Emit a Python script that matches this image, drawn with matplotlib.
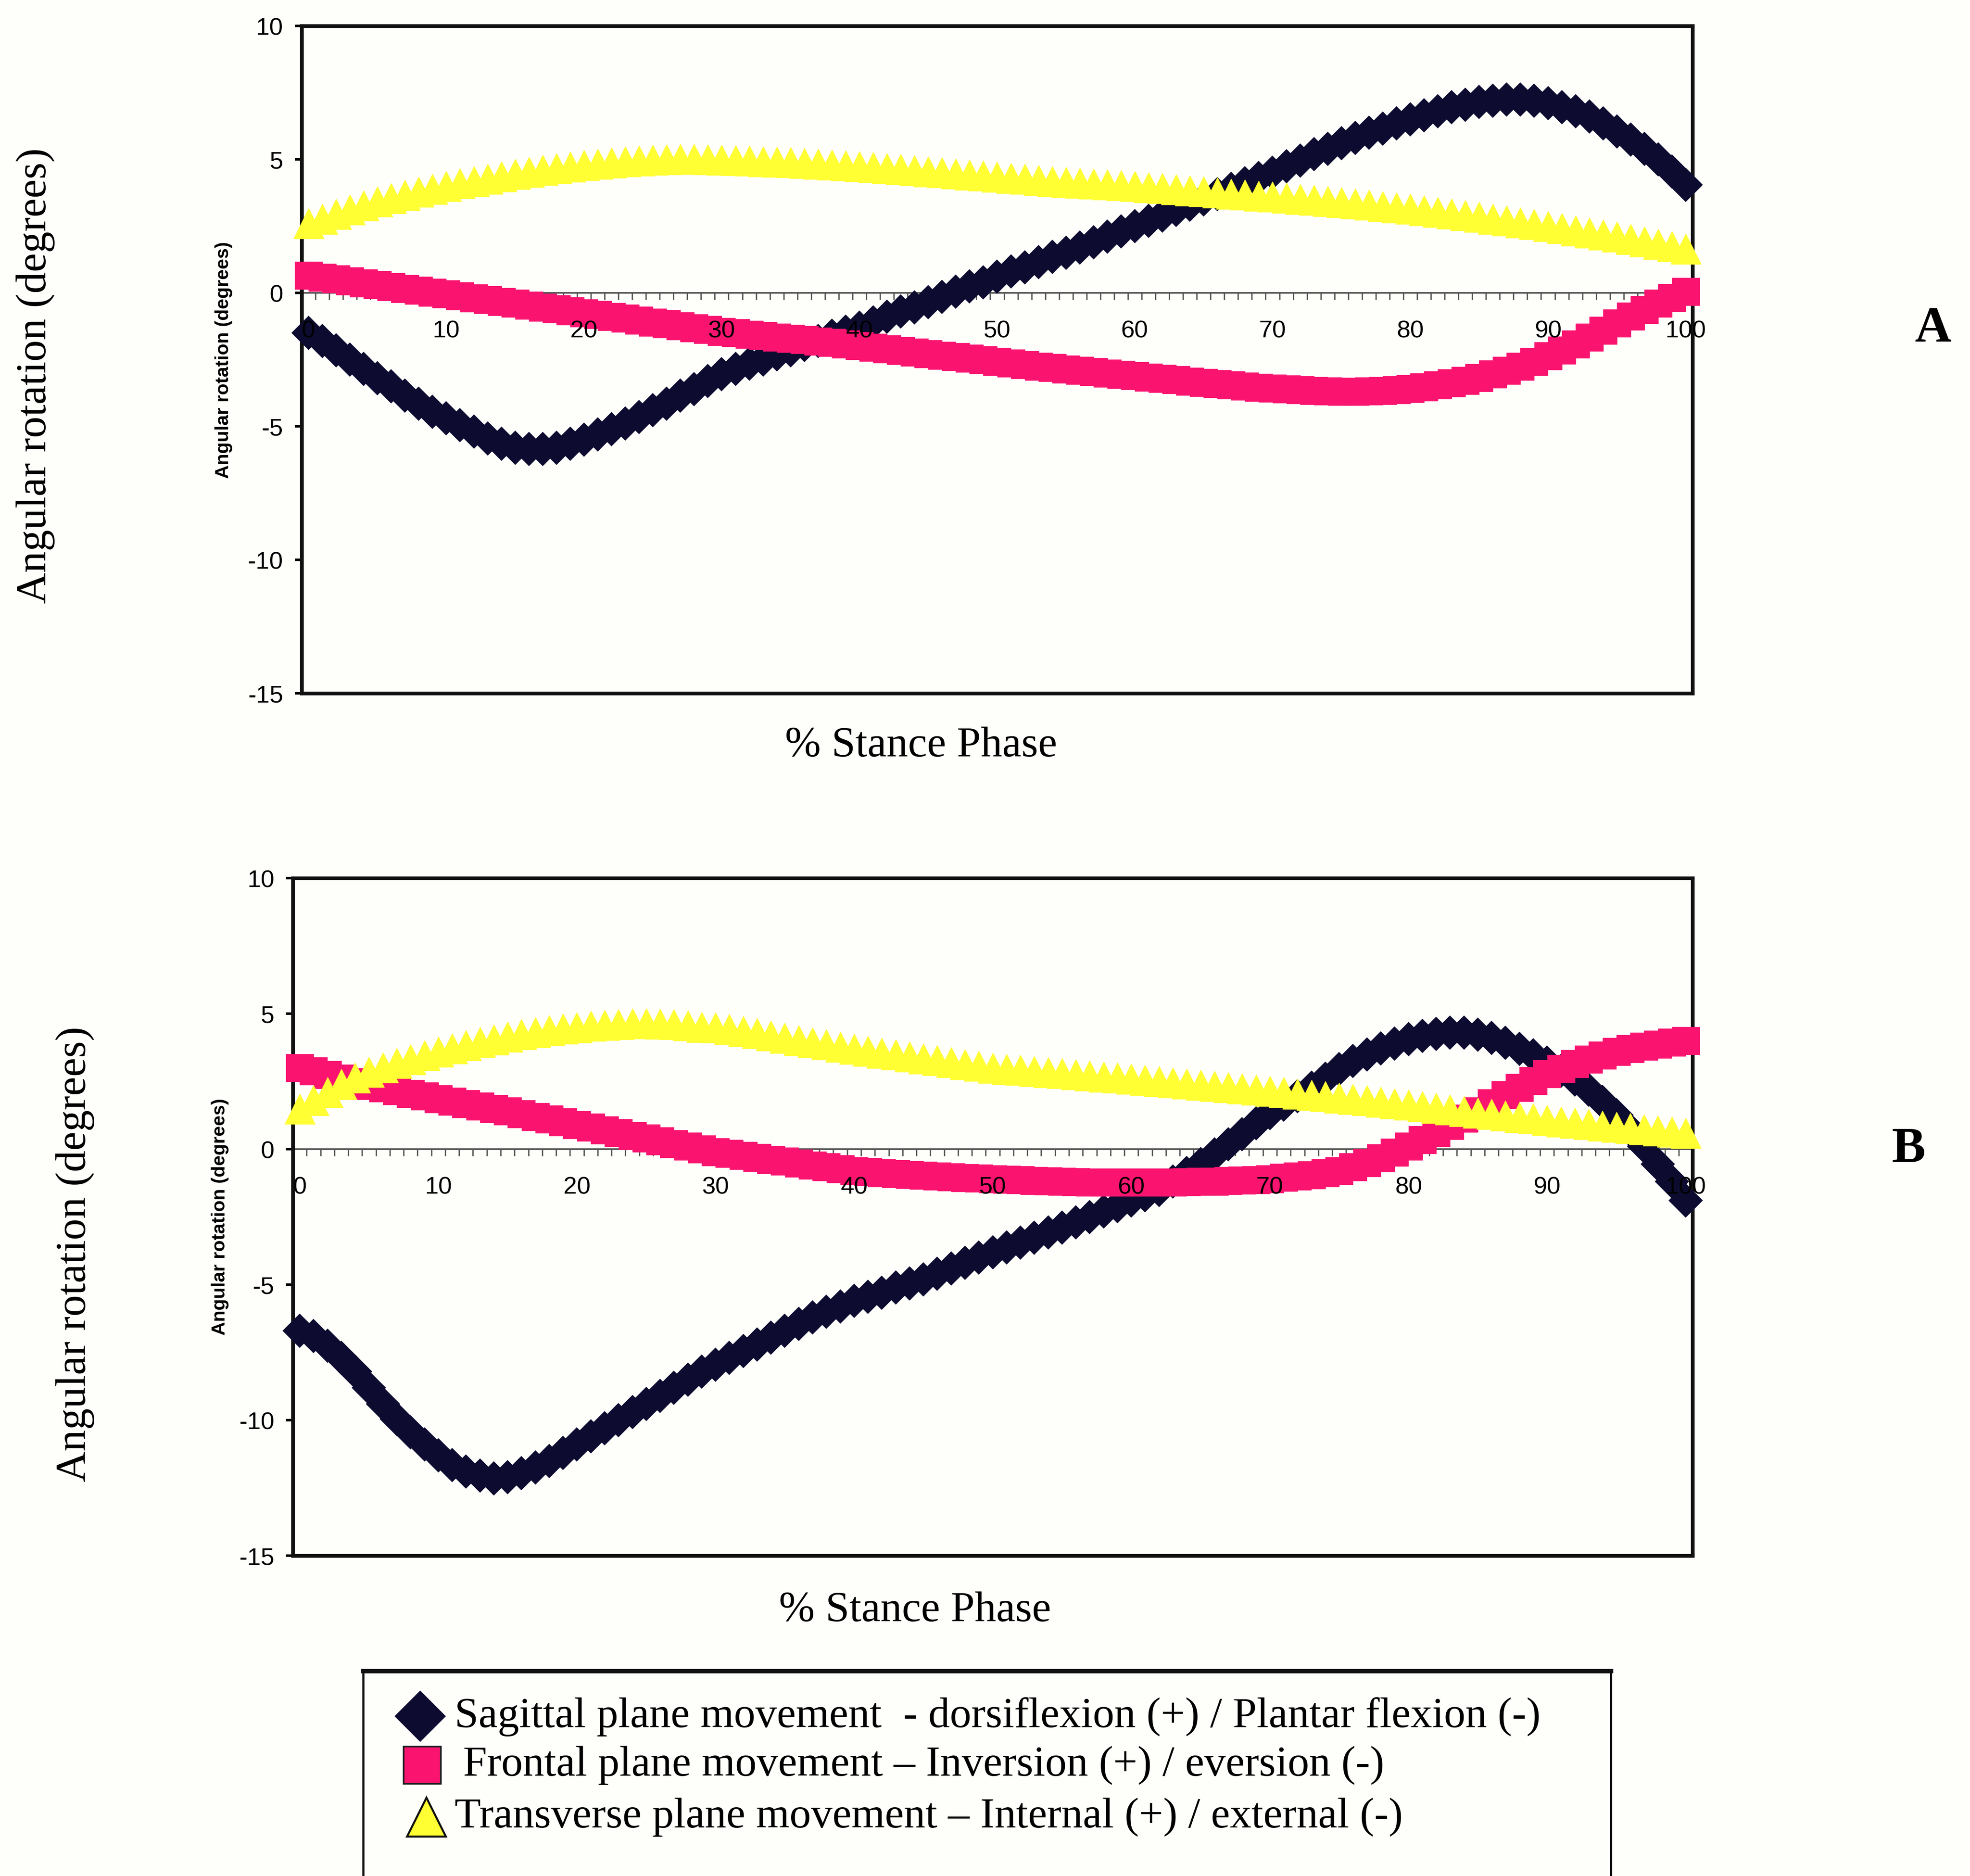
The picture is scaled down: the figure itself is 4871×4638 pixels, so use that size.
import numpy as np
import matplotlib.pyplot as plt
from matplotlib.lines import Line2D
from matplotlib.patches import Rectangle

plt.rcParams['font.family'] = ['Liberation Sans', 'DejaVu Sans']
plt.rcParams['axes.unicode_minus'] = False

# % of stance phase, one reading per percent
stance = np.arange(0, 101)

# panel A
sagittal_a = [-1.5, -1.8, -2.15, -2.5, -2.85, -3.2, -3.5, -3.85, -4.15, -4.45, -4.7,
              -4.95, -5.2, -5.45, -5.65, -5.8, -5.85, -5.85, -5.8, -5.65, -5.5,
              -5.3, -5.1, -4.9, -4.65, -4.4, -4.15, -3.85, -3.6, -3.3, -3.05,
              -2.85, -2.65, -2.5, -2.3, -2.15, -1.95, -1.8, -1.6, -1.45, -1.3,
              -1.1, -0.9, -0.7, -0.55, -0.35, -0.15, 0.05, 0.25, 0.4, 0.6,
              0.8, 0.95, 1.15, 1.35, 1.5, 1.7, 1.9, 2.1, 2.3, 2.5,
              2.7, 2.9, 3.1, 3.3, 3.5, 3.7, 3.9, 4.1, 4.3, 4.5,
              4.75, 4.95, 5.2, 5.4, 5.6, 5.8, 6.0, 6.15, 6.35, 6.5,
              6.65, 6.8, 6.95, 7.05, 7.15, 7.2, 7.25, 7.25, 7.2, 7.1,
              6.95, 6.8, 6.6, 6.35, 6.05, 5.75, 5.4, 5.0, 4.55, 4.05]
frontal_a = [0.65, 0.58, 0.51, 0.44, 0.37, 0.3, 0.23, 0.16, 0.09, 0.02, -0.05,
             -0.12, -0.19, -0.26, -0.33, -0.4, -0.47, -0.54, -0.61, -0.68, -0.75,
             -0.82, -0.89, -0.96, -1.03, -1.1, -1.17, -1.24, -1.31, -1.38, -1.45,
             -1.5, -1.56, -1.61, -1.66, -1.71, -1.76, -1.81, -1.86, -1.92, -1.98,
             -2.04, -2.1, -2.16, -2.22, -2.28, -2.34, -2.4, -2.46, -2.52, -2.58,
             -2.64, -2.7, -2.75, -2.8, -2.86, -2.91, -2.96, -3.01, -3.06, -3.11,
             -3.16, -3.21, -3.26, -3.31, -3.36, -3.41, -3.46, -3.5, -3.54, -3.58,
             -3.61, -3.64, -3.66, -3.68, -3.69, -3.69, -3.68, -3.66, -3.63, -3.59,
             -3.53, -3.46, -3.38, -3.29, -3.18, -3.05, -2.91, -2.75, -2.57, -2.37,
             -2.15, -1.92, -1.67, -1.41, -1.14, -0.88, -0.63, -0.4, -0.18, 0.05]
transverse_a = [2.6, 2.78, 2.95, 3.12, 3.27, 3.42, 3.55, 3.67, 3.79, 3.9, 4.0,
                4.1, 4.19, 4.28, 4.37, 4.45, 4.53, 4.6, 4.67, 4.73, 4.79,
                4.84, 4.88, 4.92, 4.95, 4.98, 5.0, 5.01, 5.01, 5.0, 4.99,
                4.97, 4.95, 4.93, 4.91, 4.89, 4.86, 4.84, 4.81, 4.78, 4.75,
                4.71, 4.67, 4.63, 4.59, 4.55, 4.51, 4.47, 4.43, 4.39, 4.35,
                4.31, 4.27, 4.23, 4.19, 4.15, 4.12, 4.09, 4.06, 4.03, 4.0,
                3.96, 3.92, 3.88, 3.84, 3.8, 3.76, 3.72, 3.68, 3.64, 3.6,
                3.56, 3.52, 3.48, 3.44, 3.4, 3.35, 3.3, 3.25, 3.2, 3.15,
                3.09, 3.03, 2.97, 2.91, 2.85, 2.78, 2.71, 2.64, 2.57, 2.5,
                2.42, 2.34, 2.26, 2.18, 2.1, 2.01, 1.92, 1.83, 1.74, 1.65]

# panel B
sagittal_b = [-6.7, -6.9, -7.25, -7.7, -8.2, -8.8, -9.4, -9.95, -10.45, -10.9, -11.3,
              -11.65, -11.9, -12.05, -12.15, -12.1, -11.95, -11.75, -11.5, -11.2, -10.9,
              -10.6, -10.3, -10.0, -9.7, -9.4, -9.1, -8.8, -8.5, -8.2, -7.95,
              -7.7, -7.45, -7.2, -6.95, -6.7, -6.45, -6.2, -6.0, -5.8, -5.6,
              -5.45, -5.3, -5.1, -4.95, -4.8, -4.6, -4.4, -4.2, -4.0, -3.8,
              -3.62, -3.44, -3.26, -3.08, -2.9, -2.7, -2.5, -2.3, -2.1, -1.9,
              -1.7, -1.5, -1.2, -0.88, -0.55, -0.2, 0.18, 0.55, 0.95, 1.33,
              1.65, 1.96, 2.27, 2.6, 2.95, 3.25, 3.5, 3.72, 3.9, 4.06,
              4.18, 4.26, 4.3, 4.3, 4.23, 4.1, 3.92, 3.7, 3.46, 3.2,
              2.9, 2.57, 2.2, 1.75, 1.25, 0.7, 0.1, -0.55, -1.2, -1.9]
frontal_b = [3.0, 2.88, 2.75, 2.62, 2.48, 2.35, 2.25, 2.15, 2.05, 1.95, 1.85,
             1.76, 1.67, 1.58, 1.49, 1.4, 1.3, 1.2, 1.1, 1.0, 0.9,
             0.8, 0.7, 0.6, 0.5, 0.4, 0.3, 0.2, 0.1, 0.0, -0.1,
             -0.17, -0.24, -0.31, -0.38, -0.45, -0.52, -0.59, -0.66, -0.73, -0.8,
             -0.84, -0.88, -0.91, -0.94, -0.97, -1.0, -1.03, -1.06, -1.08, -1.1,
             -1.12, -1.14, -1.16, -1.18, -1.2, -1.21, -1.22, -1.23, -1.23, -1.23,
             -1.23, -1.22, -1.22, -1.21, -1.2, -1.19, -1.17, -1.15, -1.13, -1.1,
             -1.05, -1.0, -0.95, -0.88, -0.8, -0.65, -0.5, -0.32, -0.12, 0.1,
             0.35, 0.6, 0.86, 1.13, 1.4, 1.7, 2.0, 2.27, 2.53, 2.77,
             2.97, 3.15, 3.32, 3.47, 3.6, 3.7, 3.79, 3.87, 3.94, 4.0]
transverse_b = [1.5, 1.8, 2.1, 2.4, 2.65, 2.85, 3.02, 3.18, 3.32, 3.46, 3.6,
                3.72, 3.84, 3.95, 4.05, 4.15, 4.24, 4.32, 4.39, 4.45, 4.5,
                4.55, 4.59, 4.62, 4.64, 4.64, 4.63, 4.61, 4.57, 4.51, 4.5,
                4.43, 4.36, 4.28, 4.19, 4.1, 4.02, 3.94, 3.86, 3.78, 3.7,
                3.63, 3.56, 3.49, 3.42, 3.35, 3.28, 3.21, 3.14, 3.07, 3.0,
                2.96, 2.92, 2.88, 2.84, 2.8, 2.76, 2.72, 2.68, 2.64, 2.6,
                2.56, 2.51, 2.47, 2.42, 2.38, 2.33, 2.29, 2.24, 2.2, 2.15,
                2.1, 2.05, 2.0, 1.95, 1.9, 1.85, 1.8, 1.74, 1.69, 1.64,
                1.58, 1.52, 1.47, 1.41, 1.35, 1.3, 1.24, 1.18, 1.13, 1.07,
                1.02, 0.97, 0.92, 0.87, 0.82, 0.78, 0.73, 0.69, 0.64, 0.6]

y_ticks = [10, 5, 0, -5, -10, -15]
x_labels = list(range(0, 101, 10))

legend_labels = ['Sagittal plane movement  - dorsiflexion (+) / Plantar flexion (-)',
                 'Frontal plane movement \u2013 Inversion (+) / eversion (-)',
                 'Transverse plane movement \u2013 Internal (+) / external (-)']

navy = '#0d0c30'
pink = '#fa1470'
yellow = '#ffff33'
bg = '#fefefb'
serif = ['Liberation Serif', 'DejaVu Serif']
serif_size = 25.5

fig = plt.figure(figsize=(16.24, 15.463), dpi=300, facecolor=bg)


def draw_panel(ax, sag, fro, tra):
    ax.set_facecolor(bg)
    ax.plot(stance, sag, ls='none', marker='D', ms=14, mfc=navy, mec=navy,
            mew=0.5, clip_on=False, zorder=3)
    ax.plot(stance, fro, ls='none', marker='s', ms=16.5, mfc=pink, mec=pink,
            mew=0.3, clip_on=False, zorder=4)
    ax.plot(stance, tra, ls='none', marker='^', ms=18, mfc=yellow, mec=yellow,
            mew=0.3, clip_on=False, zorder=5)
    ax.set_xlim(-0.5, 100.5)
    ax.set_ylim(-15, 10)
    ax.set_yticks(y_ticks)
    ax.set_xticks([])
    ax.tick_params(axis='y', direction='out', length=4, width=1.5,
                   labelsize=14.5, pad=7)
    for s in ax.spines.values():
        s.set_linewidth(2.2)
        s.set_color('#111111')

    # category axis crossing at zero: line and tick marks under the markers
    zero = ax.secondary_xaxis(15 / 25)
    zero.set_alignment('bottom')
    zero.set_zorder(1)
    zero.set_xticks(x_labels)
    zero.set_xticks(np.arange(-0.5, 101, 1), minor=True)
    zero.tick_params(which='major', length=0, labelbottom=False)
    zero.tick_params(which='minor', length=4, width=0.8, color='#555555',
                     direction='out')
    zero.spines['bottom'].set_linewidth(1.0)
    zero.spines['bottom'].set_color('#555555')

    # category labels sit on top of the markers
    labels = ax.secondary_xaxis(15 / 25)
    labels.set_alignment('bottom')
    labels.set_zorder(8)
    labels.set_xticks(x_labels)
    labels.tick_params(which='major', length=0, pad=16, labelsize=14.5)
    labels.spines['bottom'].set_visible(False)


ax_a = fig.add_axes([0.1531, 0.6303, 0.7059, 0.3557])
draw_panel(ax_a, sagittal_a, frontal_a, transverse_a)

ax_b = fig.add_axes([0.1486, 0.1707, 0.7104, 0.3611])
draw_panel(ax_b, sagittal_b, frontal_b, transverse_b)

# axis titles
fig.text(0.0179, 0.7997, 'Angular rotation (degrees)', rotation=90,
         ha='center', va='center', fontsize=serif_size, family=serif)
fig.text(0.0382, 0.3315, 'Angular rotation (degrees)', rotation=90,
         ha='center', va='center', fontsize=serif_size, family=serif)
small = ['Liberation Sans Narrow', 'Liberation Sans', 'DejaVu Sans']
fig.text(0.1135, 0.808, 'Angular rotation (degrees)', rotation=90,
         ha='center', va='center', fontsize=11.2, weight='bold', family=small)
fig.text(0.1117, 0.3516, 'Angular rotation (degrees)', rotation=90,
         ha='center', va='center', fontsize=11.2, weight='bold', family=small)
fig.text(0.4674, 0.6023, '% Stance Phase', ha='center', va='center',
         fontsize=serif_size, family=serif)
fig.text(0.4643, 0.1414, '% Stance Phase', ha='center', va='center',
         fontsize=serif_size, family=serif)
fig.text(0.981, 0.8245, 'A', ha='center', va='center', fontsize=30,
         weight='bold', family=serif)
fig.text(0.9688, 0.3871, 'B', ha='center', va='center', fontsize=30,
         weight='bold', family=serif)

# legend box
fig.add_artist(Rectangle((0.1843, -0.02), 0.8175 - 0.1843, 0.1093 + 0.02,
                         transform=fig.transFigure, fill=False,
                         lw=1.3, ec='#111111'))
fig.add_artist(Line2D([0.1843, 0.8175], [0.1093, 0.1093],
                      transform=fig.transFigure, lw=2.6, color='#111111'))

rows_y = [0.0851, 0.0591, 0.0315]
marker_x = [0.2133, 0.2143, 0.2163]
text_x = [0.2307, 0.235, 0.2307]
styles = [dict(marker='D', ms=21, mfc=navy, mec=navy, mew=0.5),
          dict(marker='s', ms=22, mfc=pink, mec='#222222', mew=1.0),
          dict(marker='^', ms=23, mfc=yellow, mec='#111111', mew=1.2)]
for y, mx, tx, st, lab in zip(rows_y, marker_x, text_x, styles, legend_labels):
    fig.add_artist(Line2D([mx], [y], transform=fig.transFigure, ls='none', **st))
    fig.text(tx, y, lab, ha='left', va='center', fontsize=serif_size, family=serif)

fig.savefig('out.png', dpi=300, facecolor=bg)
